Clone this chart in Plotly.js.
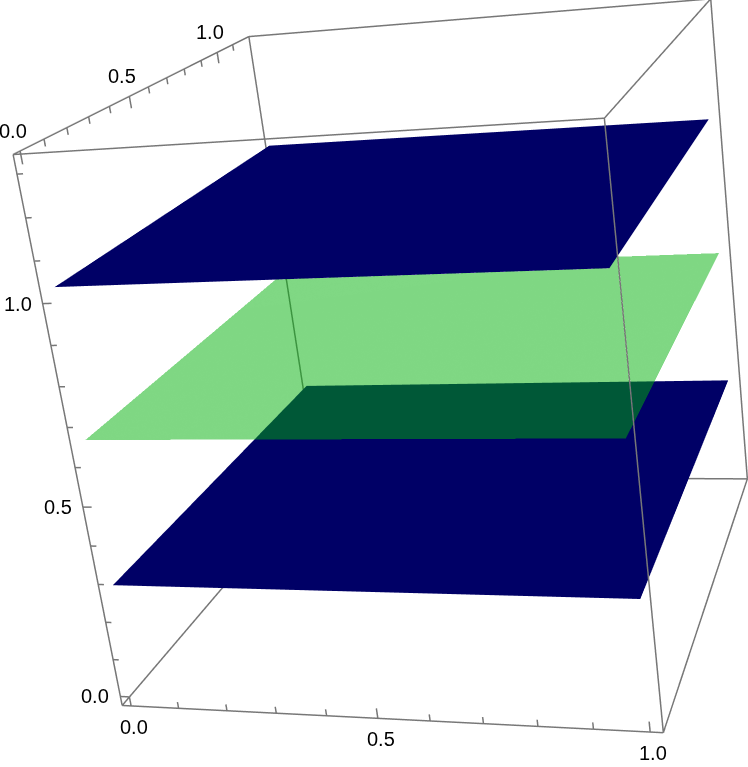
<!DOCTYPE html>
<html><head><meta charset="utf-8">
<script src="https://cdn.plot.ly/plotly-3.0.0.min.js"></script>
<style>
html,body{margin:0;background:#fff;overflow:hidden;width:748px;height:767px}
/* the gl camera has a 45 degree fov, so the plot is sized and shifted to get the view of the original */
#plot{position:absolute;left:0;top:-427.8px}
</style>
</head><body><div id="plot"></div>
<script>
// Box limits and axis scale
const xLim=[-0.0191,1.0229];
const yLim=[-0.0282,1.2085];
const zLim=[-0.0247,1.3442];
const scale=[1,0.8784,0.7901];

// Ticks
const xTicks=[0,0.1,0.2,0.3,0.4,0.5,0.6,0.7,0.8,0.9,1];
const yTicks=[0,0.1,0.2,0.3,0.4,0.5,0.6,0.7,0.8,0.9,1,1.1];
const zTicks=[0,0.1,0.2,0.3,0.4,0.5,0.6,0.7,0.8,0.9,1,1.1,1.2,1.3];
const labelTicks=[0,0.5,1];

// Sheets: x range, y range, height
const topSheet=[[0.004,1.005],[-0.014,1.171],1.033];
const midSheet=[[0.009,1.006],[-0.020,1.160],0.665];
const lowSheet=[[0.005,1.003],[-0.016,1.170],0.292];

// Camera
const eye=[1.1443,-3.2837,1.1390];
const look=[-0.3298,0.8928,-0.3067];
const upDir=[0.0217,0.3320,0.9430];

// Axis ranges are wider than the box, otherwise gl clips lines lying on the limits
const HALF=1.2;
const mids=[xLim,yLim,zLim].map(l=>(l[0]+l[1])/2);

const isMajor=v=>labelTicks.some(m=>Math.abs(m-v)<1e-6);

// Box edges and tick marks as one line trace with gaps
const seg=[[],[],[]];
const add=(a,b)=>{for(let i=0;i<3;i++)seg[i].push(a[i],b[i],null);};
for(const i of [0,1]){
    for(const j of [0,1]){
        add([xLim[0],yLim[i],zLim[j]],[xLim[1],yLim[i],zLim[j]]);
        add([xLim[i],yLim[0],zLim[j]],[xLim[i],yLim[1],zLim[j]]);
        add([xLim[i],yLim[j],zLim[0]],[xLim[i],yLim[j],zLim[1]]);
    }
}
xTicks.forEach(v=>add([v,yLim[0],zLim[0]],[v,yLim[0],zLim[0]+(isMajor(v)?0.026:0.017)]));
yTicks.forEach(v=>add([xLim[0],v,zLim[1]],[xLim[0],v,zLim[1]-(isMajor(v)?0.03:0.017)]));
zTicks.forEach(v=>add([xLim[0],yLim[0],v],[xLim[0]+(isMajor(v)?0.018:0.012),yLim[0],v]));

function sheet(s,color,opacity){
    return {
        type:'surface',
        x:s[0],
        y:s[1],
        z:[[s[2],s[2]],[s[2],s[2]]],
        colorscale:[[0,color],[1,color]],
        cmin:0,
        cmax:1,
        showscale:false,
        opacity:opacity,
        lighting:{ambient:1,diffuse:0,specular:0,fresnel:0,roughness:1},
        hoverinfo:'skip'
    };
}

const traces=[
    sheet(topSheet,'#000066',1),
    sheet(lowSheet,'#000066',1),
    sheet(midSheet,'#00b008',0.5),
    {type:'scatter3d',mode:'lines',x:seg[0],y:seg[1],z:seg[2],line:{color:'#777',width:3},hoverinfo:'skip',showlegend:false}
];

const font={family:'"Liberation Sans", Arial, sans-serif',size:20,color:'#000'};
const note=(x,y,z,v,xs,ys)=>({x,y,z,text:v.toFixed(1),showarrow:false,xshift:xs,yshift:ys,xanchor:'center',yanchor:'middle',font});
const annotations=[
    ...labelTicks.map(v=>note(v,yLim[0],zLim[0],v,3,-21)),
    ...labelTicks.map(v=>note(xLim[0],v,zLim[1],v,-7,20)),
    ...labelTicks.map(v=>note(xLim[0],yLim[0],v,v,-25,0))
];

const axis=i=>({visible:false,range:[mids[i]-HALF,mids[i]+HALF],autorange:false});

Plotly.newPlot('plot',traces,{
    width:789.5,
    height:1523.2,
    margin:{l:0,r:0,t:0,b:0},
    showlegend:false,
    paper_bgcolor:'#fff',
    scene:{
        domain:{x:[0,1],y:[0,1]},
        xaxis:axis(0),
        yaxis:axis(1),
        zaxis:axis(2),
        annotations:annotations,
        aspectmode:'manual',
        aspectratio:{x:2*HALF*scale[0],y:2*HALF*scale[1],z:2*HALF*scale[2]},
        camera:{
            eye:{x:eye[0],y:eye[1],z:eye[2]},
            center:{x:eye[0]+look[0],y:eye[1]+look[1],z:eye[2]+look[2]},
            up:{x:upDir[0],y:upDir[1],z:upDir[2]},
            projection:{type:'perspective'}
        }
    }
},{displayModeBar:false});
</script></body></html>
